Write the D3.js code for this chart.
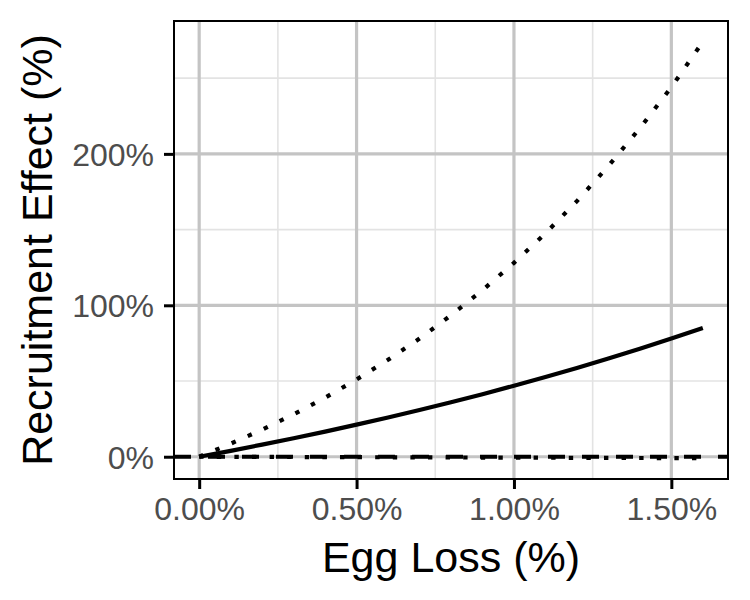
<!DOCTYPE html>
<html>
<head>
<meta charset="utf-8">
<script src="https://cdn.jsdelivr.net/npm/d3@7"></script>
<style>
body { margin: 0; background: #fff; }
svg { display: block; font-family: "Liberation Sans", Arial, sans-serif; }
</style>
</head>
<body>
<script>
// egg loss (%) and recruitment effect (%)
var eggLoss = [0, 0.1, 0.2, 0.3, 0.4, 0.5, 0.6, 0.7, 0.8, 0.9, 1.0, 1.1, 1.2, 1.3, 1.4, 1.5, 1.6];
var effectMid = [0, 3.9, 8.0, 12.2, 16.6, 21.2, 25.9, 30.9, 36.0, 41.3, 46.9, 52.6, 58.6, 64.9, 71.3, 78.0, 85.0];
var effectHigh = [0, 8.6, 17.9, 28.0, 39.0, 51.0, 64.0, 78.0, 93.4, 110.0, 128.0, 147.5, 168.8, 192.0, 217.0, 244.0, 274.0];
var effectLow = [0, -0.06, -0.12, -0.18, -0.24, -0.3, -0.36, -0.42, -0.48, -0.54, -0.6, -0.66, -0.72, -0.78, -0.84, -0.9, -0.96];

var xMajor = [0, 0.5, 1.0, 1.5];
var xMinor = [0.25, 0.75, 1.25];
var yMajor = [0, 100, 200];
var yMinor = [50, 150, 250];

var width = 750, height = 600;
var margin = {top: 21, right: 22, bottom: 121, left: 174};
var pw = width - margin.left - margin.right;
var ph = height - margin.top - margin.bottom;

// ggplot style 5% expansion
function expand(ext){
	var r = ext[1] - ext[0];
	return [ext[0] - r * 0.05, ext[1] + r * 0.05];
}

var allY = effectMid.concat(effectHigh, effectLow);
var x = d3.scaleLinear().domain(expand(d3.extent(eggLoss))).range([0, pw]);
var y = d3.scaleLinear().domain(expand(d3.extent(allY))).range([ph, 0]);

var svg = d3.select("body").append("svg")
	.attr("width", width)
	.attr("height", height);

var g = svg.append("g")
	.attr("transform", "translate(" + margin.left + "," + margin.top + ")");

// grid
function vlines(vals, color, w){
	g.selectAll(null).data(vals).enter().append("line")
		.attr("x1", function(d){ return x(d); })
		.attr("x2", function(d){ return x(d); })
		.attr("y1", 0).attr("y2", ph)
		.attr("stroke", color).attr("stroke-width", w);
}
function hlines(vals, color, w){
	g.selectAll(null).data(vals).enter().append("line")
		.attr("y1", function(d){ return y(d); })
		.attr("y2", function(d){ return y(d); })
		.attr("x1", 0).attr("x2", pw)
		.attr("stroke", color).attr("stroke-width", w);
}
vlines(xMinor, "#e3e3e3", 1.6);
hlines(yMinor, "#e3e3e3", 1.6);
vlines(xMajor, "#c4c4c4", 3.2);
hlines(yMajor, "#c4c4c4", 3.2);

// series
function drawLine(vals, dash){
	var line = d3.line()
		.x(function(d, i){ return x(eggLoss[i]); })
		.y(function(d){ return y(d); });
	g.append("path")
		.datum(vals)
		.attr("d", line)
		.attr("fill", "none")
		.attr("stroke", "#000")
		.attr("stroke-width", 4.2)
		.attr("stroke-dasharray", dash);
}
drawLine(effectMid, null);
drawLine(effectHigh, "4.4,13.2");
drawLine(effectLow, "4.4,13.2");

// zero reference
g.append("line")
	.attr("x1", 0).attr("x2", pw)
	.attr("y1", y(0)).attr("y2", y(0))
	.attr("stroke", "#000")
	.attr("stroke-width", 4.2)
	.attr("stroke-dasharray", "17,17");

// panel border
g.append("rect")
	.attr("width", pw).attr("height", ph)
	.attr("fill", "none")
	.attr("stroke", "#000")
	.attr("stroke-width", 2);

// axes
var xAxis = g.append("g")
	.attr("transform", "translate(0," + ph + ")")
	.call(d3.axisBottom(x).tickValues(xMajor).tickSize(10).tickPadding(6)
		.tickFormat(function(d){ return d3.format(".2f")(d) + "%"; }));
var yAxis = g.append("g")
	.call(d3.axisLeft(y).tickValues(yMajor).tickSize(10).tickPadding(10)
		.tickFormat(function(d){ return d + "%"; }));

[xAxis, yAxis].forEach(function(a){
	a.select(".domain").remove();
	a.selectAll(".tick line").attr("stroke", "#000").attr("stroke-width", 3);
	a.selectAll(".tick text")
		.attr("fill", "#4d4d4d")
		.style("font-size", "32px")
		.style("font-family", "'Liberation Sans', Arial, sans-serif");
});
xAxis.selectAll(".tick text").attr("dy", "0.72em").attr("y", 18);
yAxis.selectAll(".tick text").attr("dy", "0.36em");

// titles
svg.append("text")
	.attr("x", margin.left + pw / 2)
	.attr("y", 572)
	.attr("text-anchor", "middle")
	.style("font-size", "43px")
	.text("Egg Loss (%)");

svg.append("text")
	.attr("transform", "translate(52," + (margin.top + ph / 2) + ") rotate(-90)")
	.attr("text-anchor", "middle")
	.style("font-size", "43px")
	.text("Recruitment Effect (%)");
</script>
</body>
</html>
